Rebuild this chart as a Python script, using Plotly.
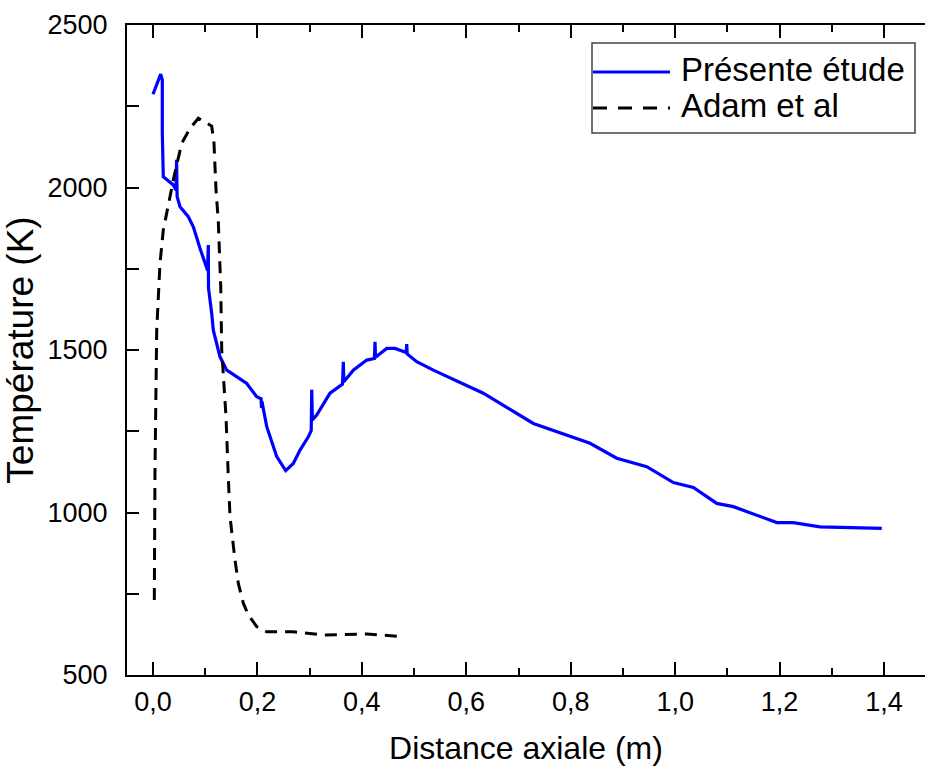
import plotly.graph_objects as go

# Présente étude (blue)
x_present = [0.0, 0.0147, 0.0178, 0.0178, 0.0197, 0.0389, 0.0440, 0.0452, 0.0462, 0.0517,
             0.0676, 0.0772, 0.0900, 0.0996, 0.1045, 0.1059, 0.1063, 0.1124, 0.1155, 0.1283,
             0.1412, 0.1600, 0.1795, 0.1986, 0.2070, 0.2078, 0.2086, 0.2178, 0.2369, 0.2542,
             0.2687, 0.2816, 0.2975, 0.3030, 0.3040, 0.3052, 0.3135, 0.3390, 0.3614, 0.3630,
             0.3645, 0.3655, 0.3836, 0.4093, 0.4240, 0.4252, 0.4262, 0.4476, 0.4635, 0.4794,
             0.4850, 0.4859, 0.4868, 0.5050, 0.5369, 0.6326, 0.7284, 0.8370, 0.8881, 0.9456,
             0.9966, 1.0349, 1.0797, 1.1115, 1.1946, 1.2264, 1.2775, 1.3957]
y_present = [2287, 2349, 2331, 2168, 2033, 2008, 1992, 2085, 1972, 1941,
             1910, 1879, 1813, 1767, 1745, 1823, 1690, 1613, 1561, 1479,
             1438, 1418, 1397, 1356, 1350, 1322, 1342, 1264, 1172, 1129,
             1151, 1192, 1233, 1252, 1378, 1285, 1300, 1367, 1392, 1395,
             1464, 1402, 1438, 1469, 1474, 1525, 1478, 1505, 1505, 1495,
             1492, 1518, 1488, 1464, 1438, 1367, 1274, 1213, 1167, 1141,
             1092, 1077, 1028, 1018, 969, 969, 956, 951]

# Adam et al (black dashed)
x_adam = [0.0025, 0.0038, 0.0071, 0.0134, 0.0197, 0.0293, 0.0402, 0.0550, 0.0709, 0.0868,
          0.1124, 0.1168, 0.1207, 0.1251, 0.1297, 0.1316, 0.1347, 0.1398, 0.1442, 0.1475,
          0.1570, 0.1634, 0.1730, 0.1825, 0.1986, 0.2178, 0.2687, 0.3262, 0.4093, 0.4794]
y_adam = [731, 1131, 1561, 1767, 1869, 1951, 2033, 2136, 2182, 2213,
          2189, 2136, 1992, 1895, 1695, 1500, 1408, 1295, 1110, 987,
          854, 782, 721, 685, 649, 633, 633, 623, 626, 618]

x_ticks = [0.0, 0.2, 0.4, 0.6, 0.8, 1.0, 1.2, 1.4]
x_ticklabels = ["0,0", "0,2", "0,4", "0,6", "0,8", "1,0", "1,2", "1,4"]
y_ticks = [500, 1000, 1500, 2000, 2500]

name_present = "Présente étude"
name_adam = "Adam et al"

FONT = "Liberation Sans, Arial, sans-serif"

fig = go.Figure()
fig.add_trace(go.Scatter(x=x_present, y=y_present, mode="lines", name=name_present,
                         line=dict(color="#0000ff", width=3.2), showlegend=False))
fig.add_trace(go.Scatter(x=x_adam, y=y_adam, mode="lines", name=name_adam,
                         line=dict(color="#000000", width=3, dash="12px,8px"), showlegend=False))

W, H = 925, 769
L, R, T, B = 127, 0, 25, 94
pw, ph = W - L - R, H - T - B

def px(xp):
    return (xp - L) / pw

def py(yp):
    return (H - B - yp) / ph

# manual legend box (paper coords from pixel layout)
fig.add_shape(type="rect", xref="paper", yref="paper",
              x0=px(592), x1=px(915), y0=py(133), y1=py(43),
              line=dict(color="#444444", width=1.5), fillcolor="white")
fig.add_shape(type="line", xref="paper", yref="paper",
              x0=px(593), x1=px(670), y0=py(72), y1=py(72),
              line=dict(color="#0000ff", width=3))
fig.add_shape(type="line", xref="paper", yref="paper",
              x0=px(593), x1=px(670), y0=py(108), y1=py(108),
              line=dict(color="#000000", width=3, dash="14px,11px"))
fig.add_annotation(xref="paper", yref="paper", x=px(679), y=py(70), text=name_present,
                   showarrow=False, xanchor="left", yanchor="middle",
                   font=dict(family=FONT, size=33, color="black"))
fig.add_annotation(xref="paper", yref="paper", x=px(679), y=py(106), text=name_adam,
                   showarrow=False, xanchor="left", yanchor="middle",
                   font=dict(family=FONT, size=33, color="black"))

fig.update_layout(
    width=W, height=H,
    margin=dict(l=L, r=R, t=T, b=B, pad=0),
    plot_bgcolor="white", paper_bgcolor="white",
    font=dict(family=FONT, color="black"),
    showlegend=False,
)
fig.update_xaxes(
    range=[-0.0498, 1.4785], showgrid=False, zeroline=False,
    showline=True, linecolor="black", linewidth=2, mirror="ticks",
    ticks="inside", ticklen=13, tickwidth=2, tickcolor="black",
    tickvals=x_ticks, ticktext=x_ticklabels,
    minor=dict(dtick=0.1, tick0=0, ticks="inside", ticklen=7, tickwidth=2, tickcolor="black", showgrid=False),
    tickfont=dict(family=FONT, size=27, color="black"),
    ticklabelstandoff=2,
    title=dict(text="Distance axiale (m)", font=dict(family=FONT, size=32, color="black"), standoff=20),
)
fig.update_yaxes(
    range=[500, 2500], showgrid=False, zeroline=False,
    showline=True, linecolor="black", linewidth=2, mirror=False,
    ticks="inside", ticklen=12, tickwidth=2, tickcolor="black",
    tickvals=y_ticks,
    minor=dict(dtick=250, tick0=500, ticks="inside", ticklen=12, tickwidth=2, tickcolor="black", showgrid=False),
    tickfont=dict(family=FONT, size=27, color="black"),
    ticklabelstandoff=12,
    title=dict(text="Température (K)", font=dict(family=FONT, size=37, color="black"), standoff=4),
)

fig.write_html("out.html")
